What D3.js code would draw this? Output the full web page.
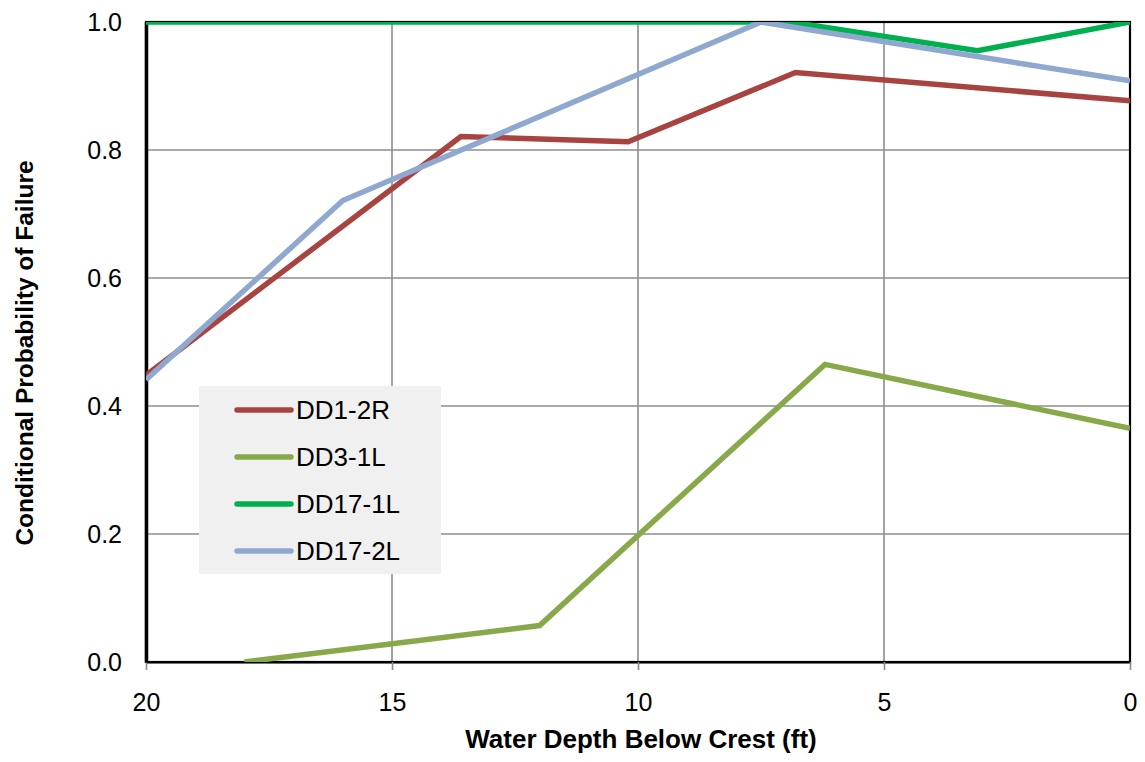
<!DOCTYPE html>
<html>
<head>
<meta charset="utf-8">
<script src="https://cdn.jsdelivr.net/npm/d3@7"></script>
<style>
  html, body { margin: 0; padding: 0; background: #fff; }
  svg { display: block; font-family: Arial, "Liberation Sans", sans-serif; }
</style>
</head>
<body>
<svg id="chart" width="1145" height="762"></svg>
<script>
// Water depth below crest (ft) and conditional probability of failure per section
const seriesNames = ["DD1-2R", "DD3-1L", "DD17-1L", "DD17-2L"];
const seriesColors = ["#A84440", "#88A94A", "#00B050", "#8FA8CF"];

const dd12rDepth = [20, 13.6, 10.2, 6.8, 0];
const dd12rProb  = [0.448, 0.821, 0.813, 0.921, 0.877];

const dd31lDepth = [18, 12, 6.2, 0];
const dd31lProb  = [0.0, 0.057, 0.465, 0.365];

const dd171lDepth = [20, 7.5, 6.9, 3.1, 0];
const dd171lProb  = [1.0, 1.0, 1.0, 0.955, 1.0];

const dd172lDepth = [20, 16, 7.5, 0];
const dd172lProb  = [0.441, 0.721, 1.0, 0.908];

const xTicks = [20, 15, 10, 5, 0];
const yTicks = [0, 0.2, 0.4, 0.6, 0.8, 1.0];

const xTitle = "Water Depth Below Crest (ft)";
const yTitle = "Conditional Probability of Failure";

const series = [
  { name: seriesNames[0], color: seriesColors[0], x: dd12rDepth, y: dd12rProb },
  { name: seriesNames[1], color: seriesColors[1], x: dd31lDepth, y: dd31lProb },
  { name: seriesNames[2], color: seriesColors[2], x: dd171lDepth, y: dd171lProb },
  { name: seriesNames[3], color: seriesColors[3], x: dd172lDepth, y: dd172lProb }
];

const svg = d3.select("#chart");
const plot = { left: 146, right: 1130, top: 22, bottom: 662 };

const x = d3.scaleLinear().domain([20, 0]).range([plot.left, plot.right]);
const y = d3.scaleLinear().domain([0, 1]).range([plot.bottom, plot.top]);

// gridlines
const grid = svg.append("g");
grid.selectAll("line.vg").data(xTicks.filter(t => t !== 20 && t !== 0)).join("line")
  .attr("x1", d => x(d)).attr("x2", d => x(d))
  .attr("y1", plot.top).attr("y2", plot.bottom)
  .attr("stroke", "#8c8c8c").attr("stroke-width", 1.6);
grid.selectAll("line.hg").data(yTicks.filter(t => t !== 0 && t !== 1)).join("line")
  .attr("x1", plot.left).attr("x2", plot.right)
  .attr("y1", d => y(d)).attr("y2", d => y(d))
  .attr("stroke", "#8c8c8c").attr("stroke-width", 1.6);

// plot frame
svg.append("rect")
  .attr("x", plot.left).attr("y", plot.top)
  .attr("width", plot.right - plot.left).attr("height", plot.bottom - plot.top)
  .attr("fill", "none").attr("stroke", "#000").attr("stroke-width", 2.2);

// x axis with ticks below
const xAxis = d3.axisBottom(x).tickValues(xTicks).tickSize(8).tickSizeOuter(0).tickPadding(23)
  .tickFormat(d3.format("d"));
const gx = svg.append("g").attr("transform", `translate(0,${plot.bottom})`).call(xAxis);
gx.select(".domain").attr("stroke", "#000").attr("stroke-width", 2.2);
gx.selectAll(".tick line").attr("stroke", "#8c8c8c").attr("stroke-width", 1.6);
gx.selectAll(".tick text").attr("font-size", 25).attr("fill", "#000")
  .attr("font-family", "Arial, 'Liberation Sans', sans-serif");

// y axis
const yAxis = d3.axisLeft(y).tickValues(yTicks).tickSize(0).tickPadding(24)
  .tickFormat(d3.format(".1f"));
const gy = svg.append("g").attr("transform", `translate(${plot.left},0)`).call(yAxis);
gy.select(".domain").attr("stroke", "#000").attr("stroke-width", 3.5);
gy.selectAll(".tick text").attr("font-size", 25).attr("fill", "#000")
  .attr("font-family", "Arial, 'Liberation Sans', sans-serif");

// axis titles
svg.append("text")
  .attr("x", 641).attr("y", 748)
  .attr("text-anchor", "middle").attr("font-size", 26).attr("font-weight", "bold")
  .text(xTitle);
svg.append("text")
  .attr("transform", "translate(33,353) rotate(-90)")
  .attr("text-anchor", "middle").attr("font-size", 24.5).attr("font-weight", "bold")
  .text(yTitle);

// series lines, clipped to the plot area
svg.append("clipPath").attr("id", "plotClip").append("rect")
  .attr("x", plot.left).attr("y", plot.top)
  .attr("width", plot.right - plot.left).attr("height", plot.bottom - plot.top);

const line = d3.line().x(d => x(d[0])).y(d => y(d[1]));
svg.append("g").attr("clip-path", "url(#plotClip)")
  .selectAll("path").data(series).join("path")
  .attr("d", s => line(s.x.map((v, i) => [v, s.y[i]])))
  .attr("fill", "none").attr("stroke", s => s.color)
  .attr("stroke-width", 5.5).attr("stroke-linejoin", "miter");

// legend
const legend = svg.append("g").attr("transform", "translate(199,386)");
legend.append("rect").attr("width", 242).attr("height", 188).attr("fill", "#f0f0f0");
const items = legend.selectAll("g.item").data(series).join("g")
  .attr("transform", (d, i) => `translate(0,${24 + i * 47})`);
items.append("line")
  .attr("x1", 38).attr("x2", 92).attr("y1", 0).attr("y2", 0)
  .attr("stroke", d => d.color).attr("stroke-width", 5.5).attr("stroke-linecap", "round");
items.append("text")
  .attr("x", 97).attr("y", 0).attr("dy", "0.36em")
  .attr("font-size", 26).attr("fill", "#000")
  .text(d => d.name);
</script>
</body>
</html>
